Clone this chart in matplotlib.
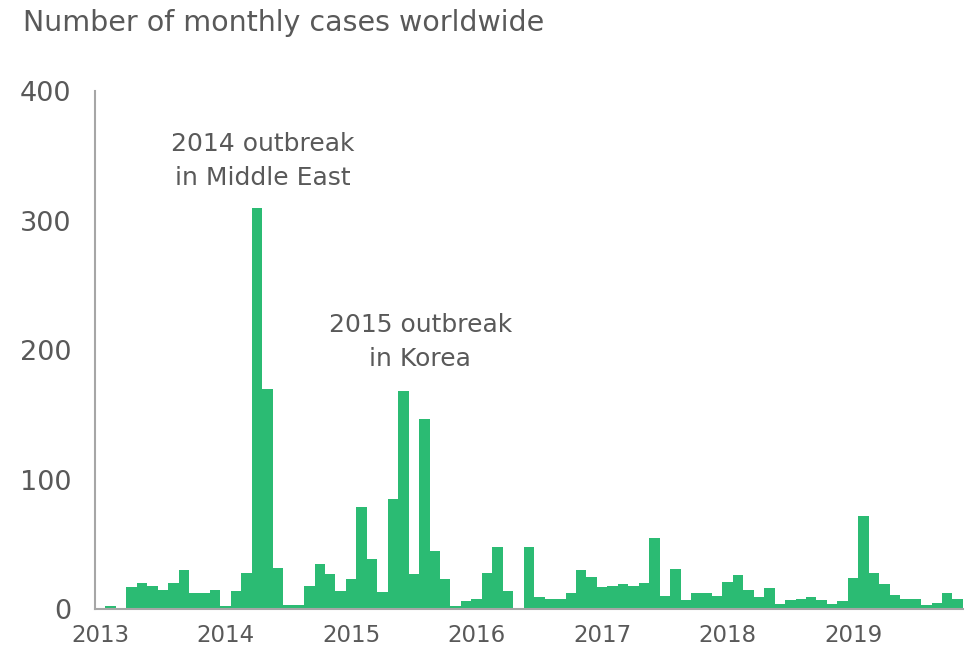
import numpy as np
import pandas as pd
from matplotlib import pyplot as plt

# monthly case counts, Jan 2013 .. Nov 2019
cases = [
    1, 2, 0, 17, 20, 18, 15, 20, 30, 12, 12, 15,          # 2013
    2, 14, 28, 310, 170, 32, 3, 3, 18, 35, 27, 14,        # 2014
    23, 79, 39, 13, 85, 168, 27, 147, 45, 23, 2, 6,       # 2015
    8, 28, 48, 14, 0, 48, 9, 8, 8, 12, 30, 25,            # 2016
    17, 18, 19, 18, 20, 55, 10, 31, 7, 12, 12, 10,        # 2017
    21, 26, 15, 9, 16, 4, 7, 8, 9, 7, 4, 6,               # 2018
    24, 72, 28, 19, 11, 8, 8, 3, 5, 12, 8,                # 2019
]
years = ["2013", "2014", "2015", "2016", "2017", "2018", "2019"]
y_ticks = [0, 100, 200, 300, 400]

df = pd.DataFrame({"month": np.arange(len(cases)), "cases": cases})

grey = "#595959"
green = "#2bbb73"
plt.rcParams["font.family"] = "DejaVu Sans"

fig = plt.figure(figsize=(9.73, 6.51), dpi=100)
ax = fig.add_axes([0.0976, 0.0645, 0.892, 0.7957])

ax.bar(df["month"], df["cases"], width=1.0, color=green, edgecolor="none")

ax.set_xlim(-0.5, len(cases) - 0.5)
ax.set_ylim(0, 400)
ax.set_yticks(y_ticks)
ax.set_xticks(np.arange(len(years)) * 12)
ax.set_xticklabels(years)

for s in ["top", "right"]:
    ax.spines[s].set_visible(False)
for s in ["left", "bottom"]:
    ax.spines[s].set_color("#a6a6a6")
    ax.spines[s].set_linewidth(1.5)

ax.tick_params(axis="y", length=0, pad=17, labelsize=19.5, labelcolor=grey)
ax.tick_params(axis="x", length=0, pad=11, labelsize=16.5, labelcolor=grey)

# annotations for the two outbreaks
ax.text(15.57, 346, "2014 outbreak\nin Middle East", ha="center", va="center",
        fontsize=18, color=grey, linespacing=1.55)
ax.text(30.6, 206, "2015 outbreak\nin Korea", ha="center", va="center",
        fontsize=18, color=grey, linespacing=1.55)

fig.text(0.024, 0.964, "Number of monthly cases worldwide", ha="left", va="center",
         fontsize=20.5, color=grey)

plt.savefig("out.png", dpi=100)
